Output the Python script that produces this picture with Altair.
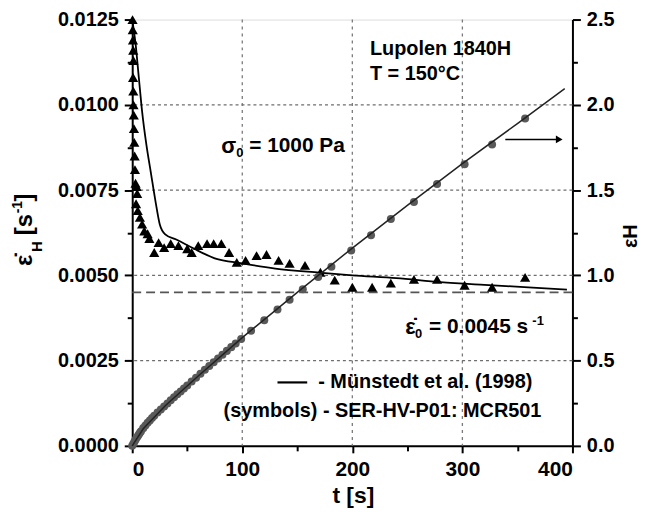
import altair as alt
import pandas as pd

# ---- data ----
rate_line_t = [0, 3, 6, 9, 13, 17, 21, 25, 30, 40, 55, 75, 100, 130, 170, 200, 240, 280, 320, 360, 395]
rate_line_v = [0.0125, 0.0118, 0.0108, 0.0098, 0.0088, 0.0080, 0.0072, 0.0065, 0.0062, 0.00605, 0.0058,
               0.0055, 0.00535, 0.0052, 0.00508, 0.0050, 0.00492, 0.0048, 0.00472, 0.00465, 0.00458]

tri_t = [0.3, 0.5, 0.7, 0.9, 1.1, 0.8, 1.0, 1.2, 1.4, 1.6, 1.9, 2.2, 2.5, 3.0, 4.0, 4.5, 3.5, 5.0, 7.0, 9.0, 11,
         14, 15.6, 20, 24, 29, 35, 42, 50, 54, 60, 68, 74, 81, 88, 95, 103, 113, 122, 133, 143, 157, 171, 184,
         200, 218, 235, 256, 277, 302, 327, 357]
tri_v = [0.0125, 0.0122, 0.0119, 0.0116, 0.0113, 0.0108, 0.0104, 0.0100, 0.0097, 0.0093, 0.0089, 0.0085,
         0.0081, 0.0077, 0.0076, 0.0074, 0.0071, 0.0069, 0.0067, 0.0065, 0.0063,
         0.00622, 0.00608, 0.00567, 0.00596, 0.00581, 0.00593, 0.00587, 0.00578, 0.00567, 0.00587, 0.00593,
         0.00593, 0.00593, 0.00567, 0.00538, 0.00544, 0.00558, 0.00561, 0.00544, 0.00535, 0.00529, 0.00509,
         0.00486, 0.00465, 0.00465, 0.00477, 0.00488, 0.00488, 0.00471, 0.00465, 0.00494]

strain_t = [0, 1, 2, 3, 4, 5, 6, 7, 8, 10, 12, 14, 16, 18, 20, 23, 26, 29, 32, 35, 38, 41, 44, 47, 50, 54, 58,
            62, 66, 70, 74, 78, 82, 86, 90, 94, 99, 108, 120, 132, 143, 155, 169, 181, 199, 217, 235, 256, 277,
            302, 327, 357]
strain_e = [0, 0.012, 0.024, 0.036, 0.047, 0.057, 0.067, 0.077, 0.086, 0.104, 0.12, 0.135, 0.149, 0.163, 0.176,
            0.195, 0.213, 0.231, 0.249, 0.267, 0.285, 0.302, 0.319, 0.337, 0.354, 0.377, 0.400, 0.423, 0.446,
            0.468, 0.491, 0.513, 0.535, 0.557, 0.579, 0.600, 0.627, 0.675, 0.737, 0.800, 0.857, 0.918, 0.99,
            1.05, 1.145, 1.235, 1.33, 1.43, 1.535, 1.652, 1.767, 1.92]

strain_line_t = [0, 10, 30, 60, 100, 150, 200, 250, 300, 350, 393]
strain_line_e = [0, 0.10, 0.235, 0.41, 0.635, 0.9, 1.16, 1.41, 1.655, 1.89, 2.095]

grid_x = [100, 200, 300]
grid_y = [0.0025, 0.005, 0.0075, 0.01]
ref_rate = [0.0045]

x_ticks = [0, 50, 100, 150, 200, 250, 300, 350, 400]
left_ticks = [0, 0.00125, 0.0025, 0.00375, 0.005, 0.00625, 0.0075, 0.00875, 0.01, 0.01125, 0.0125]
right_ticks = [0, 0.25, 0.5, 0.75, 1.0, 1.25, 1.5, 1.75, 2.0, 2.25, 2.5]

FONT = "Liberation Sans"

xscale = alt.Scale(domain=[0, 400], nice=False, zero=False)
yl_scale = alt.Scale(domain=[0, 0.0125], nice=False)
yr_scale = alt.Scale(domain=[0, 2.5], nice=False)

x_axis = alt.Axis(values=x_ticks, labelExpr="datum.value % 100 === 0 ? datum.label : ''",
                  tickSize={"condition": {"test": "datum.value % 100 === 0", "value": 7}, "value": 5},
                  title="t [s]", titleFontSize=23, titleFont=FONT, titleFontWeight="bold",
                  titleX=222, titleY=50, titleBaseline="middle",
                  labelFontSize=21, labelFont=FONT, labelFontWeight="bold", labelPadding=6,
                  domainColor="black", domainWidth=2, tickColor="black", tickWidth=2, grid=False,
                  labelColor="black", titleColor="black")

left_axis = alt.Axis(values=left_ticks, format=".4f", title=None,
                     labelExpr="round(datum.value*800) % 2 === 0 ? datum.label : ''",
                     tickSize={"condition": {"test": "round(datum.value*800) % 2 === 0", "value": 8}, "value": 5},
                     labelFontSize=20, labelFont=FONT, labelFontWeight="bold", labelPadding=6,
                     domainColor="black", domainWidth=2, tickColor="black", tickWidth=2, grid=False,
                     labelColor="black")

right_axis = alt.Axis(values=right_ticks, format=".1f", title=None, orient="right",
                      labelExpr="round(datum.value*4) % 2 === 0 ? datum.label : ''",
                      tickSize={"condition": {"test": "round(datum.value*4) % 2 === 0", "value": 8}, "value": 5},
                      labelFontSize=20, labelFont=FONT, labelFontWeight="bold", labelPadding=6,
                      domainColor="black", domainWidth=2, tickColor="black", tickWidth=2, grid=False,
                      labelColor="black")

# ---------------- left (strain rate) layer ----------------
df_gx = pd.DataFrame({"t": grid_x})
df_gy = pd.DataFrame({"v": grid_y})
df_ref = pd.DataFrame({"v": ref_rate})
df_tri = pd.DataFrame({"t": tri_t, "v": tri_v})
df_rl = pd.DataFrame({"t": rate_line_t, "v": rate_line_v})

gx = alt.Chart(df_gx).mark_rule(color="#7a7a7a", strokeDash=[3, 4], strokeWidth=1.3, opacity=1).encode(
    x=alt.X("t:Q", scale=xscale, axis=x_axis))
gy = alt.Chart(df_gy).mark_rule(color="#6e6e6e", strokeDash=[3, 3], strokeWidth=1.3, opacity=1).encode(
    y=alt.Y("v:Q", scale=yl_scale, axis=left_axis))
ref = alt.Chart(df_ref).mark_rule(color="#555555", strokeDash=[9, 5], strokeWidth=1.6).encode(
    y=alt.Y("v:Q", scale=yl_scale))
tri = alt.Chart(df_tri).mark_point(shape="triangle-up", filled=True, color="black", opacity=1, size=105).encode(
    x=alt.X("t:Q", scale=xscale), y=alt.Y("v:Q", scale=yl_scale))
rline = alt.Chart(df_rl).mark_line(color="black", strokeWidth=1.8, interpolate="monotone").encode(
    x=alt.X("t:Q", scale=xscale), y=alt.Y("v:Q", scale=yl_scale))

# annotations (data coordinates on left scale)
ann_text = ["Lupolen 1840H", "T = 150\u00b0C", "- M\u00fcnstedt et al. (1998)", "(symbols) - SER-HV-P01: MCR501"]
ann_t = [216, 216, 169, 83]
ann_v = [0.01163, 0.0109, 0.00186, 0.00102]
df_ann = pd.DataFrame({"t": ann_t, "v": ann_v, "s": ann_text})
ann = alt.Chart(df_ann).mark_text(align="left", baseline="middle", font=FONT, fontWeight="bold",
                                  fontSize=20, color="black").encode(
    x=alt.X("t:Q", scale=xscale), y=alt.Y("v:Q", scale=yl_scale), text="s:N")

# sigma_0 annotation pieces
sig_parts = ["\u03c3", "0", "= 1000 Pa"]
sig_dx = [0, 15, 28]
sig_dy = [0, 7, 0]
sig_fs = [22, 13, 21]
sig_layers = []
for s, dx, dy, fs in zip(sig_parts, sig_dx, sig_dy, sig_fs):
    d = pd.DataFrame({"t": [81], "v": [0.00878], "s": [s]})
    sig_layers.append(alt.Chart(d).mark_text(align="left", baseline="middle", font=FONT, fontWeight="bold",
                                             fontSize=fs, dx=dx, dy=dy, color="black").encode(
        x=alt.X("t:Q", scale=xscale), y=alt.Y("v:Q", scale=yl_scale), text="s:N"))

# epsilon_dot_0 annotation pieces
eps_parts = ["\u03b5\u0307", "0", "= 0.0045 s", "-1"]
eps_dx = [0, 10, 24, 128]
eps_dy = [0, 7, 0, -6]
eps_fs = [22, 13, 21, 13]
eps_layers = []
for s, dx, dy, fs in zip(eps_parts, eps_dx, eps_dy, eps_fs):
    d = pd.DataFrame({"t": [248], "v": [0.00349], "s": [s]})
    eps_layers.append(alt.Chart(d).mark_text(align="left", baseline="middle", font=FONT, fontWeight="bold",
                                             fontSize=fs, dx=dx, dy=dy, color="black").encode(
        x=alt.X("t:Q", scale=xscale), y=alt.Y("v:Q", scale=yl_scale), text="s:N"))

# legend line sample
df_leg = pd.DataFrame({"t": [132], "t2": [159], "v": [0.00186]})
leg = alt.Chart(df_leg).mark_rule(color="black", strokeWidth=2.2).encode(
    x=alt.X("t:Q", scale=xscale), x2="t2:Q", y=alt.Y("v:Q", scale=yl_scale))

# axis titles as text pieces (pixel positions relative to plot origin)
lt_parts = ["\u03b5\u0307", "H", "[s", "-1", "]"]
lt_x = [-108, -96, -108, -115, -108]
lt_y = [248, 234, 217, 195, 183]
lt_fs = [24, 15, 24, 14, 24]
lt_layers = []
for s, xx, yy, fs in zip(lt_parts, lt_x, lt_y, lt_fs):
    d = pd.DataFrame({"s": [s]})
    lt_layers.append(alt.Chart(d).mark_text(align="left", baseline="middle", angle=270, font=FONT,
                                            fontWeight="bold", fontSize=fs, color="black").encode(
        x=alt.value(xx), y=alt.value(yy), text="s:N"))

rt = alt.Chart(pd.DataFrame({"s": ["\u03b5H"]})).mark_text(
    align="center", baseline="middle", angle=270, font=FONT, fontWeight="bold", fontSize=20, color="black").encode(
    x=alt.value(502), y=alt.value(218), text="s:N")

left = alt.layer(gx, gy, ref, tri, rline, ann, leg, *sig_layers, *eps_layers, *lt_layers, rt)

# ---------------- right (Hencky strain) layer ----------------
df_sc = pd.DataFrame({"t": strain_t, "e": strain_e})
df_sl = pd.DataFrame({"t": strain_line_t, "e": strain_line_e})
circ = alt.Chart(df_sc).mark_circle(color="#595959", opacity=1, size=65).encode(
    x=alt.X("t:Q", scale=xscale), y=alt.Y("e:Q", scale=yr_scale, axis=right_axis))
sline = alt.Chart(df_sl).mark_line(color="#222222", strokeWidth=1.5).encode(
    x=alt.X("t:Q", scale=xscale), y=alt.Y("e:Q", scale=yr_scale))
df_arr = pd.DataFrame({"t": [339], "t2": [386], "e": [1.797]})
arr = alt.Chart(df_arr).mark_rule(color="black", strokeWidth=1.6).encode(
    x=alt.X("t:Q", scale=xscale), x2="t2:Q", y=alt.Y("e:Q", scale=yr_scale))
df_head = pd.DataFrame({"t": [388], "e": [1.797]})
head = alt.Chart(df_head).mark_point(shape="triangle-right", filled=True, color="black", opacity=1, size=60).encode(
    x=alt.X("t:Q", scale=xscale), y=alt.Y("e:Q", scale=yr_scale))

right = alt.layer(circ, sline, arr, head)

chart = alt.layer(left, right).resolve_scale(y="independent").properties(
    width=443, height=429,
    autosize=alt.AutoSizeParams(type="none"),
    padding={"left": 125, "top": 10, "right": 70, "bottom": 76},
).configure_view(stroke="black", strokeWidth=2).configure(background="white")

chart.save("out.html", embed_options={"renderer": "svg", "actions": False})
